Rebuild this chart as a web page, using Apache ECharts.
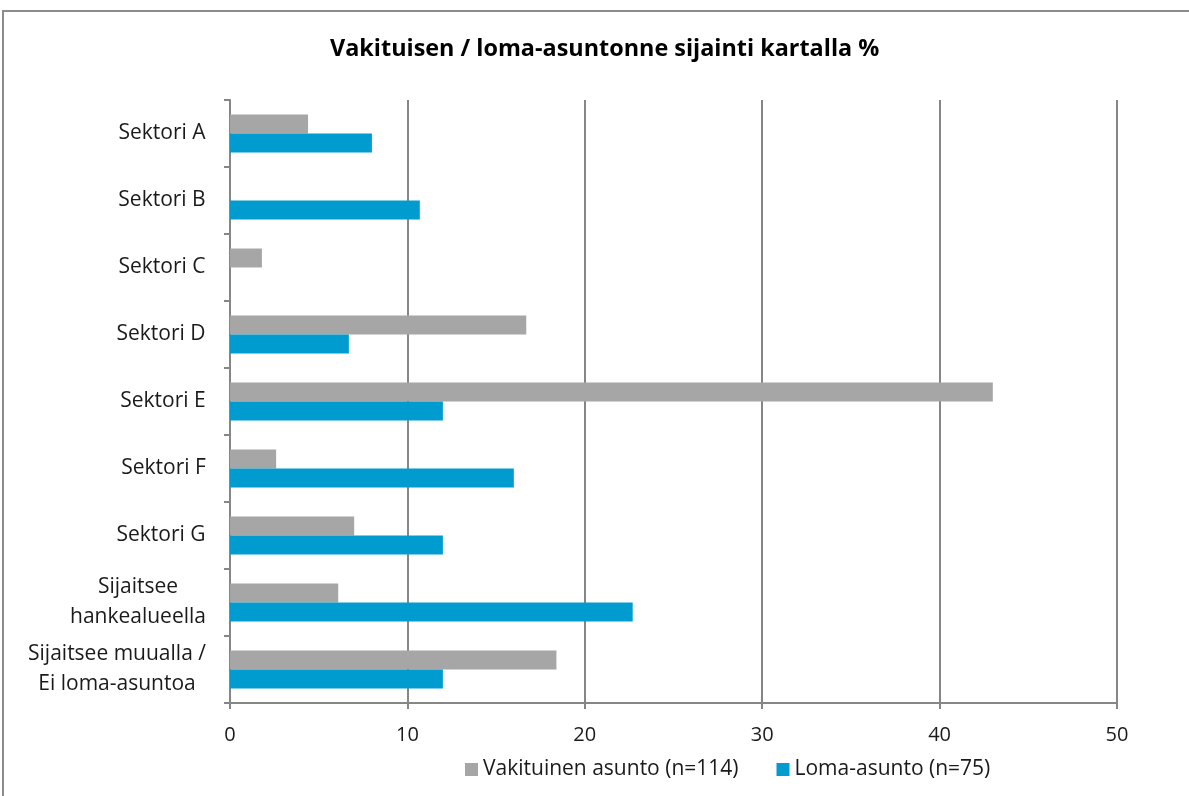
<!DOCTYPE html>
<html><head><meta charset="utf-8">
<script src="https://cdn.jsdelivr.net/npm/echarts@6/dist/echarts.min.js"></script>
<style>html,body{margin:0;padding:0;background:#fff}#c{width:1189px;height:796px}</style>
</head><body><div id="c"></div>
<script>
const categories = ["Sektori A","Sektori B","Sektori C","Sektori D","Sektori E","Sektori F","Sektori G","Sijaitsee\nhankealueella","Sijaitsee muualla /\nEi loma-asuntoa"];
const vakituinen = [4.4, 0, 1.8, 16.7, 43.0, 2.6, 7.0, 6.1, 18.4];
const loma = [8.0, 10.7, 0, 6.7, 12.0, 16.0, 12.0, 22.7, 12.0];
const seriesNames = ["Vakituinen asunto (n=114)", "Loma-asunto (n=75)"];
const titleText = "Vakituisen / loma-asuntonne sijainti kartalla %";

const font = "'Open Sans', 'Noto Sans', sans-serif";
const catFontSize = 21;
// measure label blocks so lines are centred within each right-aligned block
const ctx = document.createElement('canvas').getContext('2d');
ctx.font = catFontSize + "px 'Open Sans'";
const rich = {};
categories.forEach((c, i) => {
  const w = Math.max(...c.split('\n').map(l => ctx.measureText(l).width));
  rich['r' + i] = {width: Math.ceil(w) + 2, align: 'center', fontSize: catFontSize, fontFamily: font, color: '#1a1a1a', lineHeight: 30};
});

const chart = echarts.init(document.getElementById('c'));
chart.setOption({
  animation: false,
  textStyle: {fontFamily: font},
  title: {text: titleText, left: 325, top: 33,
    textStyle: {fontFamily: font, fontWeight: 'bold', fontSize: 23.4, color: '#000'}},
  graphic: [{type: 'rect', shape: {x: 3, y: 11, width: 1200, height: 800}, style: {fill: 'none', stroke: '#8c8c8c', lineWidth: 2}, silent: true}],
  legend: {top: 754, left: 460, itemWidth: 13, itemHeight: 13, itemGap: 38, itemStyle: {borderWidth: 0}, icon: 'rect',
    textStyle: {fontSize: 21, color: '#1a1a1a', fontFamily: font}, data: seriesNames},
  grid: {left: 230, right: 72, top: 100, bottom: 93, containLabel: false},
  xAxis: {type: 'value', min: 0, max: 50, interval: 10,
    axisLine: {show: true, lineStyle: {color: '#868686', width: 2}},
    axisTick: {show: true, length: 6, lineStyle: {color: '#868686', width: 2}},
    splitLine: {show: true, lineStyle: {color: '#868686', width: 2}},
    axisLabel: {fontSize: 20, color: '#1a1a1a', margin: 22, fontFamily: font}},
  yAxis: {type: 'category', inverse: true, data: categories,
    axisLine: {show: true, lineStyle: {color: '#868686', width: 2}},
    axisTick: {show: true, length: 6, lineStyle: {color: '#868686', width: 2}},
    axisLabel: {margin: 23, align: 'right', rich: rich,
      formatter: (v, i) => v.split('\n').map(l => '{r' + i + '|' + l + '}').join('\n')}
  },
  series: [
    {name: seriesNames[0], type: 'bar', data: vakituinen, itemStyle: {color: '#a6a6a6'}, barWidth: 19, barGap: '0%'},
    {name: seriesNames[1], type: 'bar', data: loma, itemStyle: {color: '#009ccf'}, barWidth: 19, barGap: '0%'}
  ]
});
</script></body></html>
